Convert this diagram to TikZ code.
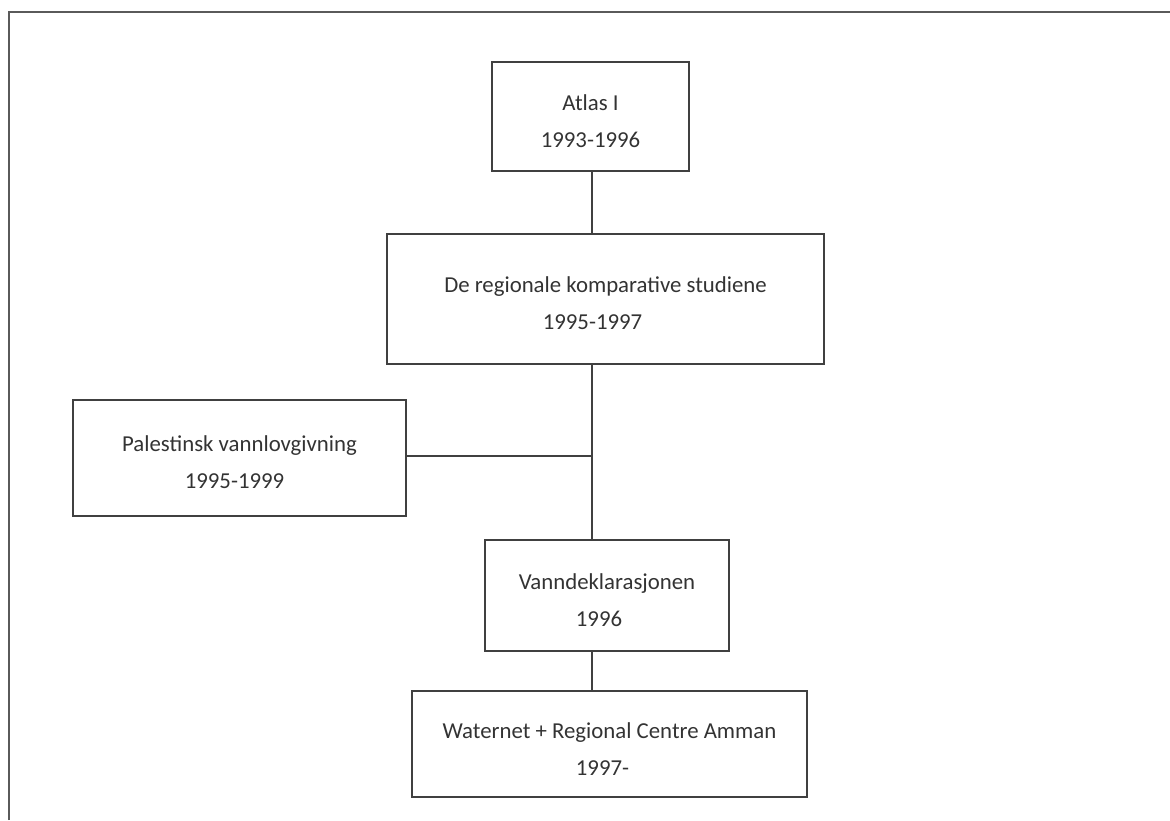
\documentclass[tikz,border=0pt]{standalone}
\usepackage{fontspec}
\setmainfont{Carlito}
\definecolor{boxline}{HTML}{404040}
\definecolor{frameline}{HTML}{5A5A5A}
\definecolor{txt}{HTML}{333333}
\newcommand{\toppush}{\rule{0pt}{25pt}}
\begin{document}
\begin{tikzpicture}[x=1pt,y=-1pt,
  box/.style={draw=boxline,line width=1.8pt,rectangle,inner sep=0pt,
    align=center,text=txt,font=\fontsize{22.8}{37}\selectfont},
  conn/.style={draw=boxline,line width=1.8pt}]
\useasboundingbox (0,0) rectangle (1170,820);
\draw[frameline,line width=2pt] (9,820) -- (9,12) -- (1170,12);
\node[box,minimum width=197pt,minimum height=109pt] (atlas) at (590.5,116.5)
  {\toppush Atlas I\\1993-1996};
\node[box,minimum width=437pt,minimum height=130pt] (reg) at (605.5,299)
  {\toppush De regionale komparative studiene\\\hspace*{-26pt}1995-1997};
\node[box,minimum width=333pt,minimum height=116pt] (pal) at (239.5,458)
  {\toppush Palestinsk vannlovgivning\\\hspace*{-10pt}1995-1999};
\node[box,minimum width=244pt,minimum height=111pt] (van) at (607,595.5)
  {\toppush Vanndeklarasjonen\\\hspace*{-16pt}1996};
\node[box,minimum width=395pt,minimum height=106pt] (wat) at (609.5,744)
  {\toppush Waternet + Regional Centre Amman\\\hspace*{-14pt}1997-};
\coordinate (j) at (592,456);
\draw[conn] (atlas.south -| j) -- (reg.north -| j);
\draw[conn] (reg.south -| j) -- (van.north -| j);
\draw[conn] (pal.east |- j) -- (j);
\draw[conn] (van.south -| j) -- (wat.north -| j);
\end{tikzpicture}
\end{document}
